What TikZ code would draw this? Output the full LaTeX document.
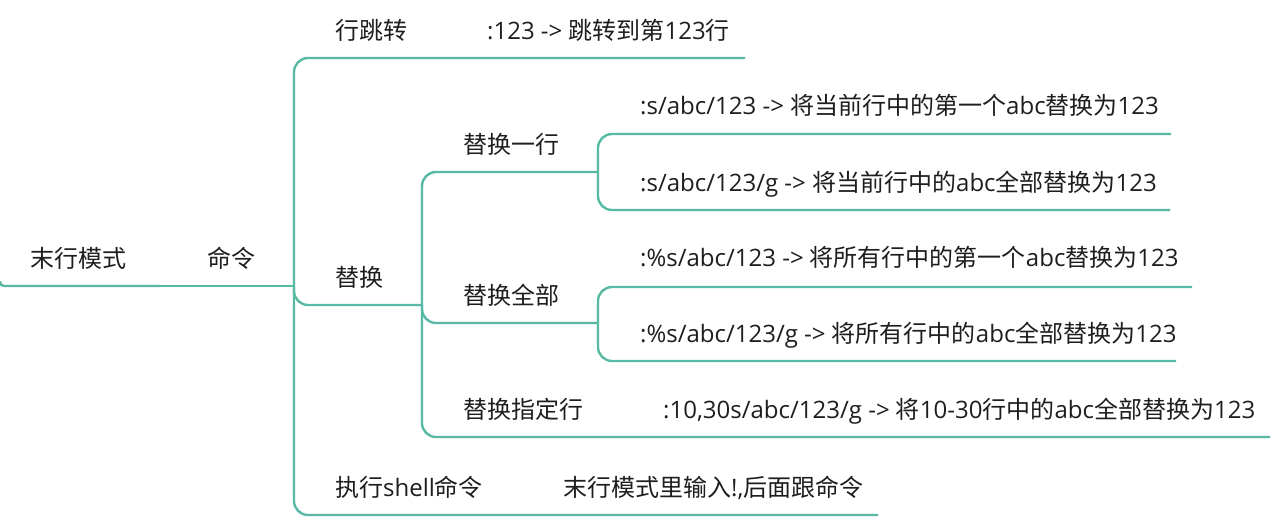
\documentclass[tikz,border=0pt]{standalone}
\usepackage{fontspec}
\setmainfont{Open Sans}
\newfontfamily\zhfont{Noto Sans CJK SC}
\newcommand{\zh}[1]{{\zhfont #1}}
\definecolor{teal}{RGB}{88,186,165}
\definecolor{ink}{RGB}{30,30,30}

\begin{document}
\begin{tikzpicture}[x=1pt,y=-1pt,
  topic/.style={anchor=base west,inner sep=0pt,text=ink,font=\fontsize{24}{28}\selectfont},
  branch/.style={draw=teal,line width=2.4pt,rounded corners=14pt}]
\useasboundingbox (0,0) rectangle (1274,528);

\coordinate (R0) at (0,286);
\coordinate (R1) at (160,286);
\coordinate (K) at (294,286);
\coordinate (J) at (455,58);
\coordinate (S) at (422,305);
\coordinate (O) at (598,172);
\coordinate (A) at (598,323);
\coordinate (X) at (540,515);

\node[topic] (root) at (30,267) {\zh{末行模式}};
\node[topic] (cmd) at (207,267) {\zh{命令}};
\node[topic] (jump) at (335,39) {\zh{行跳转}};
\node[topic] (jumpd) at (487,39) {:123 -> \zh{跳转到第}123\zh{行}};
\node[topic] (rep) at (335,286) {\zh{替换}};
\node[topic] (one) at (463,153) {\zh{替换一行}};
\node[topic] (all) at (463,304) {\zh{替换全部}};
\node[topic] (spec) at (463,418) {\zh{替换指定行}};
\node[topic] (oneA) at (640,114) {:s/abc/123 -> \zh{将当前行中的第一个}abc\zh{替换为}123};
\node[topic] (oneB) at (640,191) {:s/abc/123/g -> \zh{将当前行中的}abc\zh{全部替换为}123};
\node[topic] (allA) at (640,266) {:\%s/abc/123 -> \zh{将所有行中的第一个}abc\zh{替换为}123};
\node[topic] (allB) at (640,342) {:\%s/abc/123/g -> \zh{将所有行中的}abc\zh{全部替换为}123};
\node[topic] (specd) at (663,418) {:10,30s/abc/123/g -> \zh{将}10-30\zh{行中的}abc\zh{全部替换为}123};
\node[topic] (shell) at (335,496) {\zh{执行}shell\zh{命令}};
\node[topic] (shelld) at (563,496) {\zh{末行模式里输入}!,\zh{后面跟命令}};

\draw[branch,rounded corners=4pt] (0,281) |- (R1);
\draw[branch] (R1) -- (K);

\draw[branch] (K) |- (J) -- (745,58);
\draw[branch] (K) |- (S);
\draw[branch] (K) |- (X) -- (878,515);

\draw[branch] (S) |- (O);
\draw[branch] (S) |- (A);
\draw[branch] (S) |- (1270,437);

\draw[branch] (O) |- (1171,134);
\draw[branch] (O) |- (1170,210);
\draw[branch] (A) |- (1192,287);
\draw[branch] (A) |- (1176,361);
\end{tikzpicture}
\end{document}
